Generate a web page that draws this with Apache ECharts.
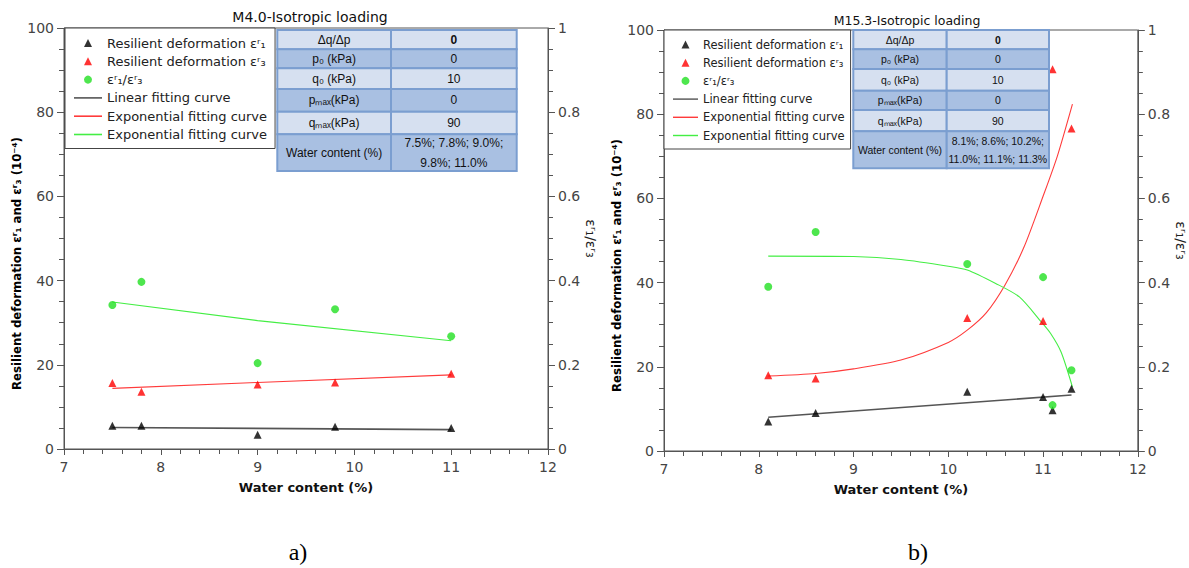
<!DOCTYPE html>
<html><head><meta charset="utf-8">
<script src="https://cdn.jsdelivr.net/npm/echarts@6/dist/echarts.min.js"></script>
<style>html,body{margin:0;padding:0;background:#fff}#c{width:1189px;height:568px}</style>
</head><body><div id="c"></div><script>
// ---------- data ----------
// chart a) M4.0
const xA = [7.5, 7.8, 9.0, 9.8, 11.0];
const e1A = [5.5, 5.5, 3.4, 5.3, 5.0];
const e3A = [15.7, 13.6, 15.3, 15.8, 17.9];
const ratioA = [0.342, 0.397, 0.204, 0.332, 0.268];
const linFitAx = [7.5, 11.0];
const linFitAy = [5.1, 4.6];
const expFitE3Ax = [7.5, 9.0, 11.0];
const expFitE3Ay = [14.4, 15.8, 17.6];
const expFitRAx = [7.5, 9.0, 11.0];
const expFitRAy = [0.349, 0.305, 0.257];
// chart b) M15.3
const xB = [8.1, 8.6, 10.2, 11.0, 11.1, 11.3];
const e1B = [7.0, 9.0, 14.1, 12.8, 9.7, 14.8];
const e3B = [18.0, 17.2, 31.6, 30.9, 90.7, 76.6];
const ratioB = [0.39, 0.52, 0.444, 0.413, 0.109, 0.192];
const linFitBx = [8.1, 11.3];
const linFitBy = [8.0, 13.3];
const expFitE3Bx = [8.1, 8.6, 9.0, 9.5, 10.0, 10.2, 10.4, 10.6, 10.8, 11.0, 11.15, 11.31];
const expFitE3By = [17.8, 18.4, 19.5, 21.6, 25.8, 28.7, 32.8, 39.5, 48.5, 60.5, 70.0, 82.4];
const expFitRBx = [8.1, 9.0, 9.5, 10.0, 10.2, 10.5, 10.75, 10.98, 11.08, 11.19, 11.31];
const expFitRBy = [0.463, 0.462, 0.455, 0.439, 0.43, 0.398, 0.366, 0.307, 0.279, 0.235, 0.152];
// text
const titles = ['M4.0-Isotropic loading', 'M15.3-Isotropic loading'];
const captions = ['a)', 'b)'];
const seriesNames = ['Resilient deformation εʳ₁', 'Resilient deformation εʳ₃', 'εʳ₁/εʳ₃',
  'Linear fitting curve', 'Exponential fitting curve', 'Exponential fitting curve '];
const xName = 'Water content (%)';
const yName = 'Resilient deformation εʳ₁ and εʳ₃ (10⁻⁴)';
const y2Name = 'εʳ₁/εʳ₃';
const tableLabels = ['Δq/Δp', 'p₀ (kPa)', 'q₀ (kPa)', 'pₘₐₓ(kPa)', 'qₘₐₓ(kPa)', 'Water content (%)'];
const tableValuesA = ['0', '0', '10', '0', '90', '7.5%; 7.8%; 9.0%;\n9.8%; 11.0%'];
const tableValuesB = ['0', '0', '10', '0', '90', '8.1%; 8.6%; 10.2%;\n11.0%; 11.1%; 11.3%'];

// ---------- build ----------
const zip = (a, b) => a.map((v, i) => [v, b[i]]);
const FONT = 'DejaVu Sans';
const TFONT = 'Liberation Sans';
const axisCol = '#555';
const GREEN = '#22e022';

function xAxisDef(gi) {
  return {
    type: 'value', gridIndex: gi, min: 7, max: 12, interval: 1,
    axisLine: {show: true, lineStyle: {color: axisCol}},
    axisTick: {show: true, length: 6, lineStyle: {color: axisCol}},
    minorTick: {show: true, splitNumber: 5, length: 5, lineStyle: {color: axisCol}},
    splitLine: {show: false},
    axisLabel: {color: '#444', fontSize: 14, fontFamily: FONT, margin: 11},
    name: xName, nameLocation: 'middle', nameGap: 32,
    nameTextStyle: {color: '#111', fontSize: 13, fontWeight: 'bold', fontFamily: FONT}
  };
}
function yLeftDef(gi) {
  return {
    type: 'value', gridIndex: gi, min: 0, max: 100, interval: 20, position: 'left',
    axisLine: {show: true, lineStyle: {color: axisCol}},
    axisTick: {show: true, length: 7, lineStyle: {color: axisCol}},
    minorTick: {show: true, splitNumber: 4, length: 5, lineStyle: {color: axisCol}},
    splitLine: {show: false},
    axisLabel: {color: '#444', fontSize: 14, fontFamily: FONT, margin: 10},
    name: yName, nameLocation: 'middle', nameGap: 40, nameRotate: 90,
    nameTextStyle: {color: '#000', fontSize: 13, fontWeight: 'bold', fontFamily: 'DejaVu Sans Condensed', padding: [0, 50, 0, 0]}
  };
}
function yRightDef(gi) {
  return {
    type: 'value', gridIndex: gi, min: 0, max: 1, interval: 0.2, position: 'right',
    axisLine: {show: true, lineStyle: {color: axisCol}},
    axisTick: {show: true, length: 7, lineStyle: {color: axisCol}},
    minorTick: {show: true, splitNumber: 4, length: 5, lineStyle: {color: axisCol}},
    splitLine: {show: false},
    axisLabel: {color: '#444', fontSize: 14, fontFamily: FONT, margin: 10},
    name: y2Name, nameLocation: 'middle', nameGap: 36, nameRotate: -90,
    nameTextStyle: {color: '#222', fontSize: 14, fontWeight: 'normal', fontFamily: FONT}
  };
}
function seriesFor(gi, xs, e1, e3, r, lfx, lfy, efx, efy, erx, ery, sm) {
  const xi = gi, yl = gi * 2, yr = gi * 2 + 1;
  return [
    {type: 'scatter', name: seriesNames[0], xAxisIndex: xi, yAxisIndex: yl, symbol: 'triangle', symbolSize: 8,
      itemStyle: {color: '#000'}, data: zip(xs, e1), z: 5},
    {type: 'scatter', name: seriesNames[1], xAxisIndex: xi, yAxisIndex: yl, symbol: 'triangle', symbolSize: 8,
      itemStyle: {color: '#ff0000'}, data: zip(xs, e3), z: 5},
    {type: 'scatter', name: seriesNames[2], xAxisIndex: xi, yAxisIndex: yr, symbol: 'circle', symbolSize: 8,
      itemStyle: {color: GREEN}, data: zip(xs, r), z: 5},
    {type: 'line', name: seriesNames[3], xAxisIndex: xi, yAxisIndex: yl, symbol: 'none',
      lineStyle: {color: '#555', width: 1.6}, itemStyle: {color: '#555'}, data: zip(lfx, lfy)},
    {type: 'line', name: seriesNames[4], xAxisIndex: xi, yAxisIndex: yl, symbol: 'none', smooth: sm,
      lineStyle: {color: '#ff3b3b', width: 1.1}, itemStyle: {color: '#ff3b3b'}, data: zip(efx, efy)},
    {type: 'line', name: seriesNames[5], xAxisIndex: xi, yAxisIndex: yr, symbol: 'none', smooth: sm,
      lineStyle: {color: '#44ee44', width: 1.1}, itemStyle: {color: '#44ee44'}, data: zip(erx, ery)}
  ];
}
function legendDef(left, top, fs, lh, gap, iw, pad, tgap) {
  const lineIcon = 'path://M0,0H28V1.6H0Z';
  const triIcon = 'path://M4,0L8,8H0Z';
  return {
    left: left, top: top, orient: 'vertical',
    data: [
      {name: seriesNames[0], icon: triIcon},
      {name: seriesNames[1], icon: triIcon},
      {name: seriesNames[2], icon: 'circle'},
      {name: seriesNames[3], icon: lineIcon},
      {name: seriesNames[4], icon: lineIcon},
      {name: seriesNames[5], icon: lineIcon}
    ],
    symbolKeepAspect: true,
    itemWidth: iw, itemHeight: 8, itemGap: gap, itemTextGap: tgap,
    formatter: n => n.trim(), selectedMode: false,
    textStyle: {fontSize: fs, lineHeight: lh, fontFamily: FONT, color: '#222'},
    padding: pad, borderColor: '#444', borderWidth: 1, backgroundColor: '#fff'
  };
}
function tableGraphics(cols, rows, labels, values, fs) {
  const els = [];
  const light = '#d6e0f0', dark = '#a9c0e2', stroke = '#7b9ed0';
  for (let i = 0; i < labels.length; i++) {
    const y0 = rows[i], h = rows[i + 1] - rows[i];
    const fill = i % 2 === 0 ? light : dark;
    for (let c = 0; c < 2; c++) {
      els.push({type: 'rect', z: 100, shape: {x: cols[c], y: y0, width: cols[c + 1] - cols[c], height: h},
        style: {fill: fill, stroke: stroke, lineWidth: 2}});
      els.push({type: 'text', z: 101, x: (cols[c] + cols[c + 1]) / 2, y: y0 + h / 2,
        style: {text: c === 0 ? labels[i] : values[i], align: 'center', verticalAlign: 'middle',
          fill: '#111', fontSize: fs, fontFamily: TFONT, lineHeight: fs + 8,
          fontWeight: (c === 1 && i === 0) ? 'bold' : 'normal'}});
    }
  }
  return els;
}

const option = {
  animation: false,
  backgroundColor: '#fff',
  title: [
    {text: titles[0], left: 305, top: 5, textAlign: 'center', textStyle: {fontSize: 14, fontWeight: 'normal', color: '#111', fontFamily: FONT}},
    {text: titles[1], left: 902, top: 9, textAlign: 'center', textStyle: {fontSize: 12.5, fontWeight: 'normal', color: '#111', fontFamily: FONT}},
    {text: captions[0], left: 293, top: 535, textAlign: 'center', textStyle: {fontSize: 24, fontWeight: 'normal', color: '#000', fontFamily: 'Liberation Serif'}},
    {text: captions[1], left: 913, top: 535, textAlign: 'center', textStyle: {fontSize: 24, fontWeight: 'normal', color: '#000', fontFamily: 'Liberation Serif'}}
  ],
  grid: [
    {left: 64, top: 28, width: 484, height: 421, show: true, borderColor: axisCol, borderWidth: 1, backgroundColor: '#fff'},
    {left: 664, top: 30, width: 474, height: 421, show: true, borderColor: axisCol, borderWidth: 1, backgroundColor: '#fff'}
  ],
  xAxis: [xAxisDef(0), xAxisDef(1)],
  yAxis: [yLeftDef(0), yRightDef(0), yLeftDef(1), yRightDef(1)],
  legend: [
    legendDef(65, 28, 13, 16, 2.3, 28, [7, 8, 6, 9], 9),
    legendDef(664, 30, 11.5, 15, 3.2, 25, [7, 6, 6, 9], 8)
  ],
  graphic: [].concat(
    tableGraphics([277.3, 391, 516.7], [30, 49.3, 68.3, 89, 111.7, 134.3, 171], tableLabels, tableValuesA, 12),
    tableGraphics([853.3, 946.7, 1049], [30, 49.3, 69, 90.7, 110, 131.3, 168.3], tableLabels, tableValuesB, 10.5)
  ),
  series: [].concat(
    seriesFor(0, xA, e1A, e3A, ratioA, linFitAx, linFitAy, expFitE3Ax, expFitE3Ay, expFitRAx, expFitRAy, false),
    seriesFor(1, xB, e1B, e3B, ratioB, linFitBx, linFitBy, expFitE3Bx, expFitE3By, expFitRBx, expFitRBy, 0.25)
  )
};
const chart = echarts.init(document.getElementById('c'), null, {renderer: 'svg'});
chart.setOption(option);
</script></body></html>
